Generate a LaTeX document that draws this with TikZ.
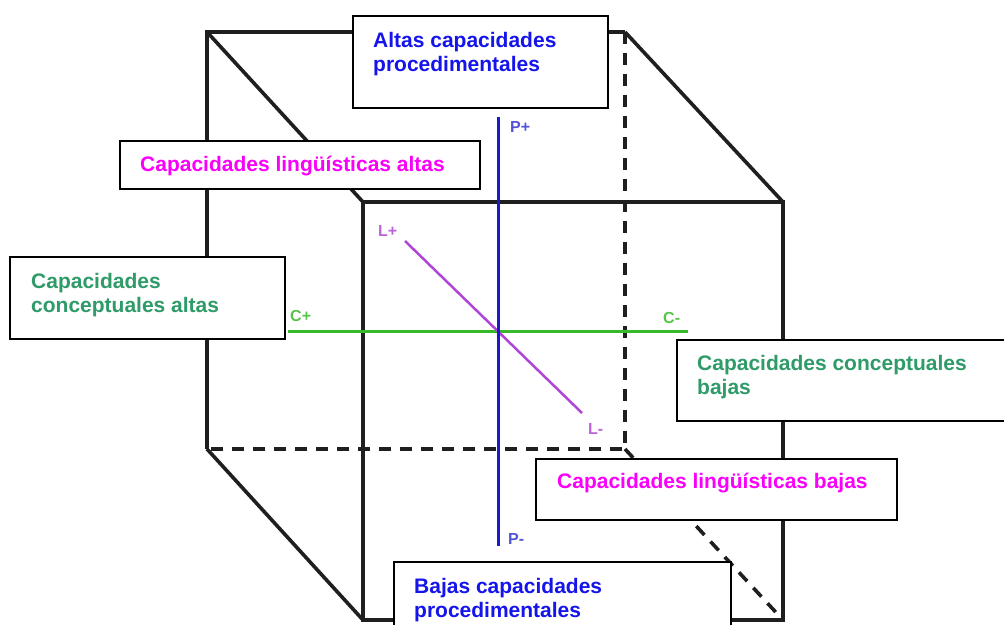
\documentclass[tikz,border=0pt]{standalone}
\usepackage{fontspec}
\setmainfont{Liberation Sans}
\usetikzlibrary{positioning}
\definecolor{azul}{RGB}{20,20,235}
\definecolor{rosa}{RGB}{250,0,250}
\definecolor{verde}{RGB}{46,155,104}
\definecolor{ejeP}{RGB}{25,25,205}
\definecolor{ejeC}{RGB}{55,185,40}
\definecolor{ejeL}{RGB}{175,70,215}

\begin{document}
\begin{tikzpicture}[x=1pt,y=-1pt,
		cubo/.style={line width=3.6pt, black!88},
		oculto/.style={cubo, dash pattern=on 12pt off 9pt},
		eje/.style={line width=3pt},
		cuadro/.style={draw=black, line width=2.2pt, fill=white, anchor=north west, inner sep=0pt},
		texto/.style={font=\fontsize{21}{24}\selectfont\bfseries, align=left, inner sep=0pt},
		marca/.style={font=\fontsize{16}{16}\selectfont\bfseries, inner sep=0pt, anchor=north west}]
	\useasboundingbox (0,0) rectangle (1004,624);
	% esquinas del cubo
	\coordinate (A) at (207,32);
	\coordinate (B) at (625,32);
	\coordinate (C) at (625,449);
	\coordinate (D) at (207,449);
	\coordinate (E) at (363,202);
	\coordinate (F) at (783,202);
	\coordinate (G) at (783,620);
	\coordinate (H) at (363,620);
	\draw[cubo] (D) -- (A) -- (B);
	\draw[cubo] (A) -- (E);
	\draw[cubo] (B) -- (F);
	\draw[cubo] (D) -- (H);
	\draw[oculto] (B) -- (C) -- (D);
	\draw[oculto] (C) -- (G);
	\draw[cubo] (E) -- (F) -- (G) -- (H) -- cycle;
	% ejes
	\coordinate (Pmas) at (498,117);
	\coordinate (Pmenos) at (498,546);
	\coordinate (Cmas) at (288,331);
	\coordinate (Cmenos) at (688,331);
	\coordinate (Lmas) at (405,241);
	\coordinate (Lmenos) at (582,413);
	\draw[eje, ejeC] (Cmas) -- (Cmenos);
	\draw[eje, ejeL, line width=2.5pt] (Lmas) -- (Lmenos);
	\draw[eje, ejeP] (Pmas) -- (Pmenos);
	\node[marca, text=ejeP!75] (pmas) at (510,121) {P+};
	\node[marca, text=ejeP!75] (pmenos) at (508,533) {P-};
	\node[marca, text=ejeC!85] (cmas) at (290,310) {C+};
	\node[marca, text=ejeC!85] (cmenos) at (663,312) {C-};
	\node[marca, text=ejeL!85] (lmas) at (378,225) {L+};
	\node[marca, text=ejeL!85] (lmenos) at (588,423) {L-};
	% cuadros
	\node[cuadro, minimum width=255, minimum height=92] (altaP) at (352,15) {};
	\node[texto, text=azul, below right=17pt and 21pt of altaP.north west] (altaPt) {Altas capacidades\\procedimentales};
	\node[cuadro, minimum width=360, minimum height=48] (altaL) at (119,140) {};
	\node[texto, text=rosa, below right=16pt and 21pt of altaL.north west] (altaLt) {Capacidades lingüísticas altas};
	\node[cuadro, minimum width=275, minimum height=82] (altaC) at (9,256) {};
	\node[texto, text=verde, below right=17pt and 22pt of altaC.north west] (altaCt) {Capacidades\\conceptuales altas};
	\node[cuadro, minimum width=345, minimum height=81] (bajaC) at (676,339) {};
	\node[texto, text=verde, below right=16pt and 21pt of bajaC.north west] (bajaCt) {Capacidades conceptuales\\bajas};
	\node[cuadro, minimum width=361, minimum height=61] (bajaL) at (535,458) {};
	\node[texto, text=rosa, below right=15pt and 22pt of bajaL.north west] (bajaLt) {Capacidades lingüísticas bajas};
	\node[cuadro, minimum width=337, minimum height=75] (bajaP) at (393,561) {};
	\node[texto, text=azul, below right=17pt and 21pt of bajaP.north west] (bajaPt) {Bajas capacidades\\procedimentales};
\end{tikzpicture}
\end{document}
